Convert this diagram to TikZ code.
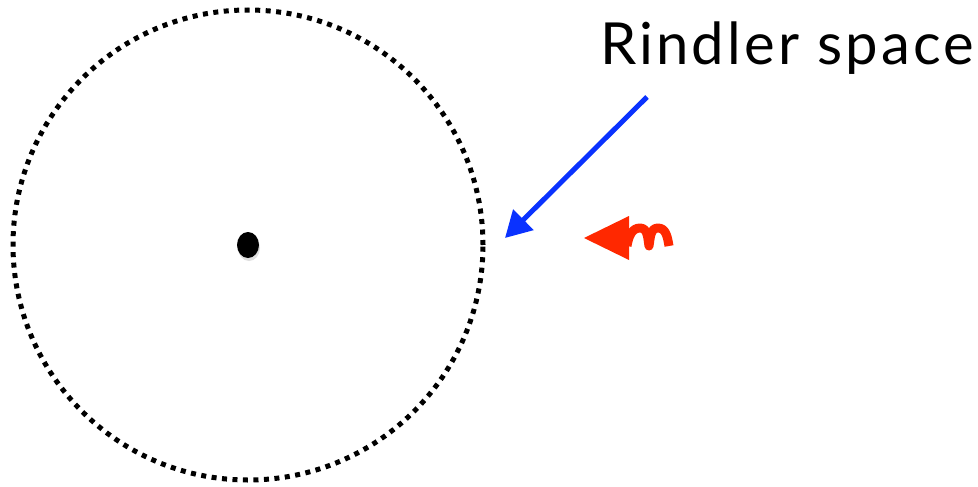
\documentclass[tikz,border=0pt]{standalone}
\usepackage{fontspec}
\setmainfont{Lato}
\usepackage{xcolor}
\usepackage{tikz}
\usetikzlibrary{positioning, arrows.meta, shapes.geometric}
\definecolor{ink}{RGB}{0,0,0}
\definecolor{ray}{RGB}{10,50,255}
\definecolor{flare}{RGB}{255,40,0}

\begin{document}
\begin{tikzpicture}[
  x=1pt, y=-1pt,
  rim/.style={circle, draw=ink, line width=5pt, dash pattern=on 5pt off 5.5pt,
              minimum size=470pt, inner sep=0pt},
  src/.style={ellipse, fill=ink, minimum width=22pt, minimum height=26pt,
              inner sep=0pt},
  lbl/.style={font=\fontsize{58}{62}\selectfont\addfontfeature{LetterSpace=5.5},
              text=ink, inner sep=0pt},
  ptr/.style={draw=ray, line width=5pt,
              -{Triangle[length=26pt, width=28pt]}},
  wav/.style={draw=flare, line width=9pt, line join=round}]
  \useasboundingbox (0,0) rectangle (978,487);
  \node[rim] (horizon) at (248,245) {};
  \node[src, fill=black!25, opacity=0.5] (shade) at (249,248) {};
  \node[src] (centre) at (248,245) {};
  \node[lbl, anchor=base west] (name) at (600,65) {Rindler space};
  \coordinate (tail) at (647,97);
  \coordinate (tip) at (505,238);
  \draw[ptr] (tail) -- (tip);
  % incoming quantum
  \coordinate (wbeg) at (627,246);
  \coordinate (wend) at (669,246);
  \coordinate (wtip) at (584,238);
  \draw[wav] (wbeg) to[out=80, in=180] (640,228) to[out=0, in=100] (649,246)
    to[out=80, in=180] (658,228) to[out=0, in=100] (wend);
  \fill[flare] (wtip) -- (629,216) -- (629,260) -- cycle;
\end{tikzpicture}
\end{document}
